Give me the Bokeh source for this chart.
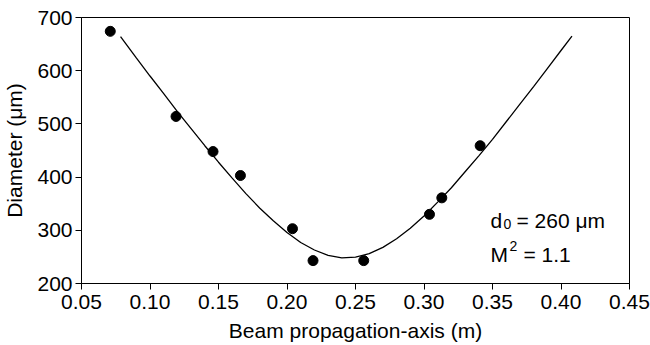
from bokeh.plotting import figure
from bokeh.models import FixedTicker, Range1d, Label
from bokeh.embed import file_html
from bokeh.resources import INLINE

# Measured beam diameters
z_points = [0.071, 0.119, 0.146, 0.166, 0.204, 0.219, 0.256, 0.304, 0.313, 0.341]
d_points = [674, 514, 448, 403, 303, 243, 243, 330, 361, 459]

# Fitted curve
z_curve = [0.0785, 0.09, 0.10, 0.11, 0.12, 0.13, 0.14, 0.15, 0.16, 0.17, 0.18, 0.19,
           0.20, 0.21, 0.22, 0.23, 0.24, 0.25, 0.26, 0.27, 0.28, 0.29, 0.30, 0.31,
           0.32, 0.33, 0.34, 0.35, 0.36, 0.37, 0.38, 0.39, 0.40, 0.408]
d_curve = [664, 624, 590, 557, 523, 491, 459, 428, 398, 369, 342, 318,
           296, 277, 263, 253, 248.3, 249.4, 256, 268, 284, 304, 327, 353,
           380, 410, 440, 471, 504, 537, 570, 604, 638, 665]

x_ticks = [0.05, 0.10, 0.15, 0.20, 0.25, 0.30, 0.35, 0.40, 0.45]
y_ticks = [200, 300, 400, 500, 600, 700]
x_tick_labels = ["0.05", "0.10", "0.15", "0.20", "0.25", "0.30", "0.35", "0.40", "0.45"]

FONT = "Liberation Sans"

p = figure(width=650, height=345, output_backend="svg", toolbar_location=None,
           x_range=Range1d(0.05, 0.45), y_range=Range1d(200, 700),
           min_border_left=81, min_border_right=21, min_border_top=17, min_border_bottom=62)

p.background_fill_color = "white"
p.border_fill_color = "white"
p.outline_line_color = "black"
p.outline_line_width = 1
p.xgrid.visible = False
p.ygrid.visible = False

for ax in (p.xaxis[0], p.yaxis[0]):
    ax.axis_line_color = "black"
    ax.major_tick_line_color = "black"
    ax.minor_tick_line_color = None
    ax.major_tick_in = 0
    ax.major_tick_out = 6
    ax.major_label_text_font = FONT
    ax.major_label_text_font_size = "21px"
    ax.major_label_text_color = "black"
    ax.axis_label_text_font = FONT
    ax.axis_label_text_font_size = "21px"
    ax.axis_label_text_font_style = "normal"
    ax.axis_label_text_color = "black"

p.xaxis.ticker = FixedTicker(ticks=x_ticks)
p.xaxis.major_label_overrides = {t: l for t, l in zip(x_ticks, x_tick_labels)}
p.yaxis.ticker = FixedTicker(ticks=y_ticks)
p.xaxis.axis_label = "Beam propagation-axis (m)"
p.yaxis.axis_label = "Diameter (μm)"
p.xaxis.major_label_standoff = 5
p.yaxis.major_label_standoff = 3
p.xaxis.axis_label_standoff = 7
p.yaxis.axis_label_standoff = 8

p.line(z_curve, d_curve, line_color="black", line_width=1.3)
p.scatter(z_points, d_points, size=10, marker="circle", fill_color="black", line_color="black")

# Annotation text
ax_x = 0.3485
d_base = 318.4
m_base = 254.5
ann = [
    ("d", d_base, 0, 0, "21px"),
    ("0", d_base, 13, -3, "14px"),
    ("= 260 μm", d_base, 26, 0, "21px"),
    ("M", m_base, 0, 0, "21px"),
    ("2", m_base, 19, 9, "14px"),
    ("= 1.1", m_base, 33, 0, "21px"),
]
for txt, yy, xo, yo, fs in ann:
    p.add_layout(Label(x=ax_x, y=yy, x_offset=xo, y_offset=yo, text=txt,
                       text_font=FONT, text_font_size=fs, text_color="black",
                       text_baseline="alphabetic", text_align="left"))

open("out.html", "w").write(file_html(p, INLINE))
